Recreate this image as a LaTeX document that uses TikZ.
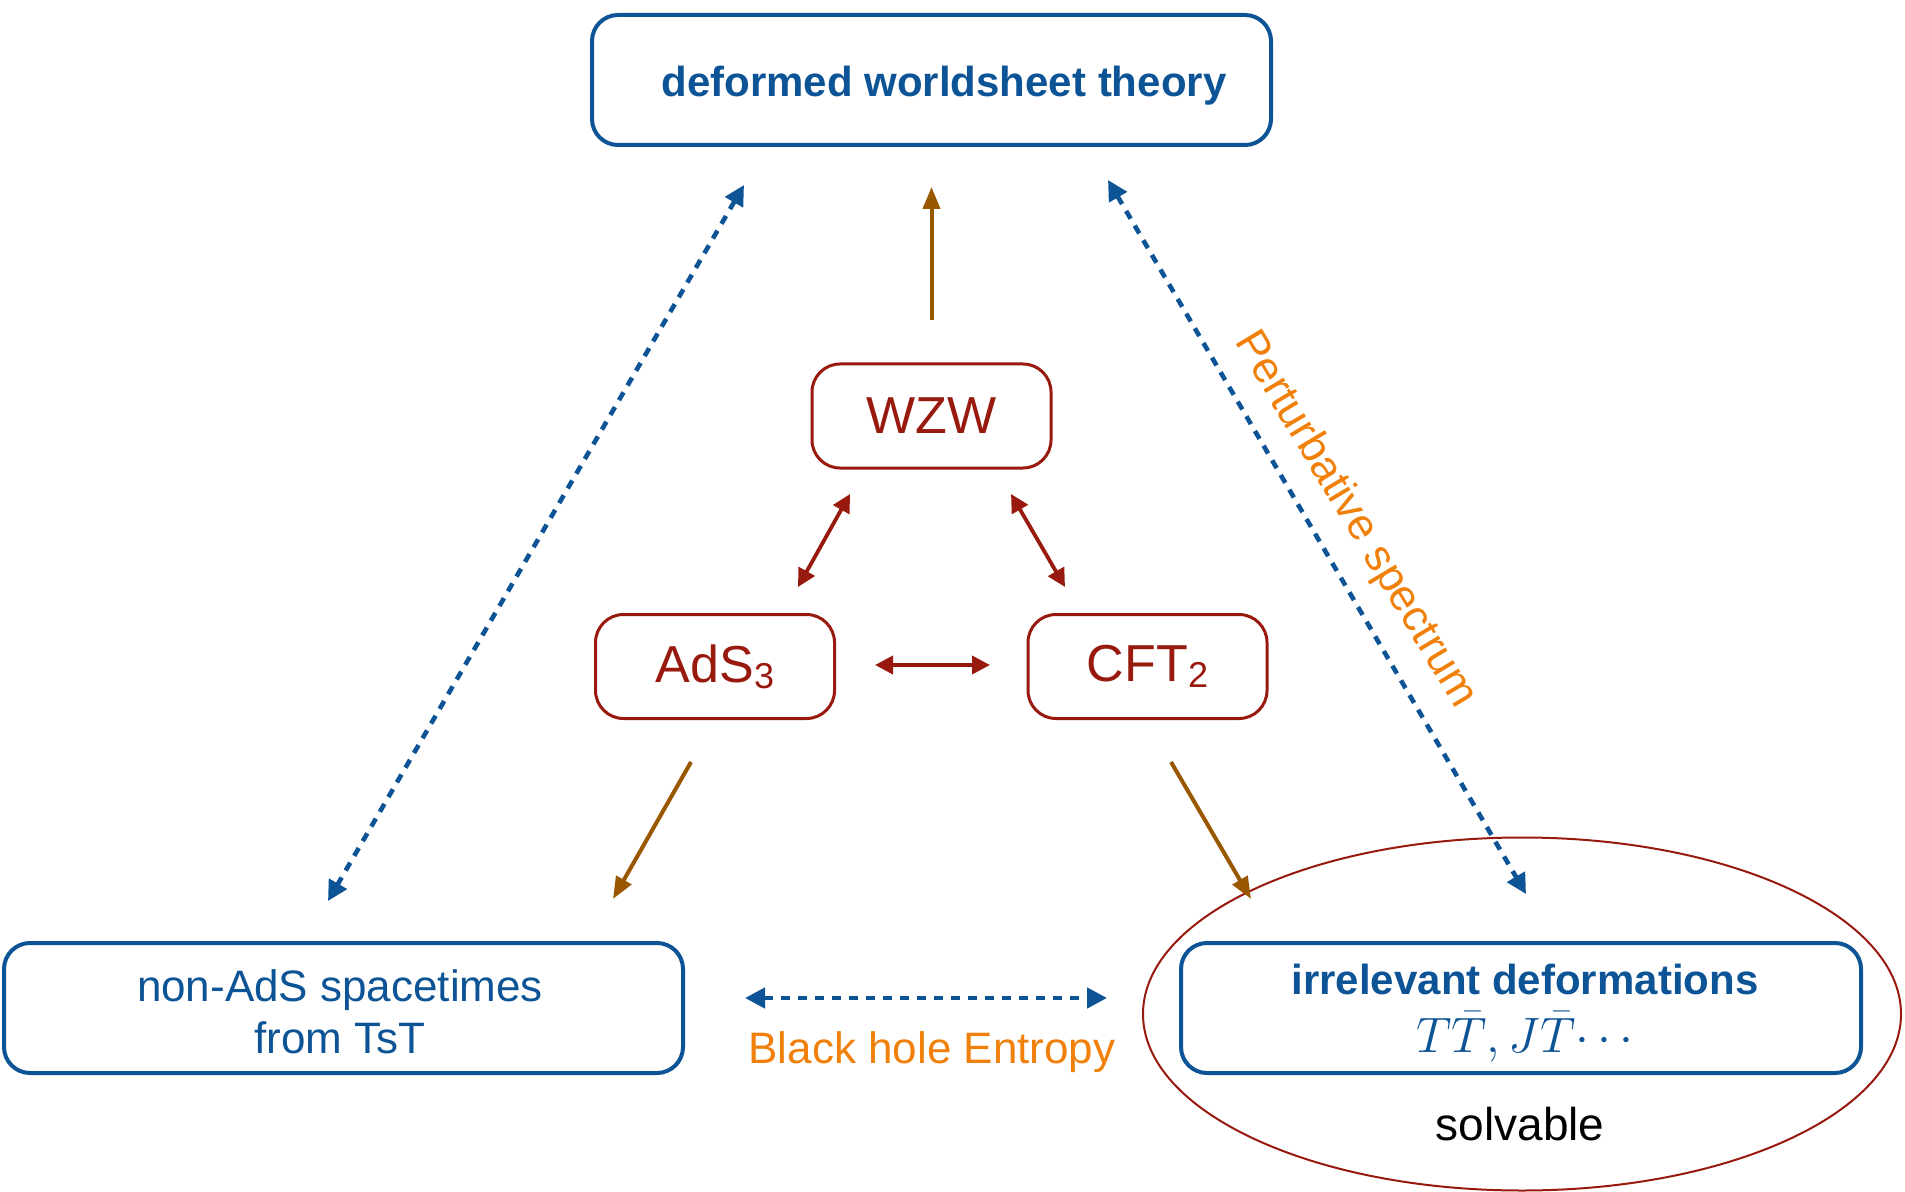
\documentclass[tikz,border=0pt]{standalone}
\usepackage{fontspec}
\setmainfont{Liberation Sans}
\usetikzlibrary{arrows.meta,shapes.geometric}
\definecolor{dblue}{RGB}{12,84,150}
\definecolor{dred}{RGB}{152,26,14}
\definecolor{arrbrown}{RGB}{153,88,0}
\definecolor{orng}{RGB}{240,128,10}
\begin{document}
\begin{tikzpicture}[x=0.5pt,y=-0.5pt,
  bluebox/.style={draw=dblue, line width=2pt, rounded corners=13pt, inner sep=0pt, minimum width=339.5pt, minimum height=65pt},
  bluetext/.style={text=dblue, align=center, inner sep=0pt},
  redbox/.style={draw=dred, line width=1.5pt, rounded corners=14pt, text=dred, inner sep=0pt, minimum width=119.5pt, minimum height=52pt, font=\fontsize{26}{30}\selectfont},
  redarr/.style={draw=dred, line width=1.9pt, {Triangle[length=9pt,width=9pt]}-{Triangle[length=9pt,width=9pt]}},
  brownarr/.style={draw=arrbrown, line width=2pt, -{Triangle[length=11pt,width=8.5pt]}},
  bluedot/.style={draw=dblue, line width=2.3pt, dash pattern=on 4.5pt off 4pt, {Triangle[length=10pt,width=10pt]}-{Triangle[length=10pt,width=10pt]}},
  orangetext/.style={text=orng, font=\fontsize{22}{26}\selectfont, inner sep=0pt}
]
\useasboundingbox (0,0) rectangle (1905,1192);

% boxes
\node[bluebox] (top) at (931.5,80) {};
\node[bluetext, font=\bfseries\fontsize{21}{25}\selectfont] (toptxt) at (944,86) {deformed worldsheet theory};
\node[redbox] (wzw) at (931.5,416) {WZW};
\node[redbox] (ads) at (715,666.5) {AdS\raisebox{-3pt}{\fontsize{18}{20}\selectfont 3}};
\node[redbox] (cft) at (1147.5,666.5) {CFT\raisebox{-3pt}{\fontsize{18}{20}\selectfont 2}};
\node[bluebox] (nonads) at (343.5,1008) {};
\node[bluetext, font=\fontsize{22}{26}\selectfont] (nonadstxt) at (340,1012) {non-AdS spacetimes\\from TsT};
\node[draw=dred, line width=1pt, ellipse, inner sep=0pt, minimum width=379pt, minimum height=176.5pt] (ell) at (1522,1014) {};
\node[bluebox, minimum width=340pt] (irr) at (1521,1008) {};
\node[bluetext, font=\fontsize{21}{29}\selectfont] (irrtxt) at (1525,1013) {\textbf{irrelevant deformations}\\{\fontsize{23}{29}\selectfont$T\bar T, J\bar T{\cdots}$}};
\node[font=\fontsize{23}{27}\selectfont, inner sep=0pt] (solv) at (1520,1124) {solvable};

% labels
\node[orangetext] (bhe) at (932,1052) {Black hole Entropy};
\node[orangetext, rotate=-59] (pert) at (1355,520) {Perturbative spectrum};

% arrow end points
\coordinate (r1a) at (850,494); \coordinate (r1b) at (798,587);
\coordinate (r2a) at (1011,494); \coordinate (r2b) at (1065,587);
\coordinate (r3a) at (875,665); \coordinate (r3b) at (990,665);
\coordinate (b1a) at (691,762); \coordinate (b1b) at (613,899);
\coordinate (b2a) at (1171,762); \coordinate (b2b) at (1251,899);
\coordinate (d1a) at (744,185); \coordinate (d1b) at (328,901);
\coordinate (d2a) at (1108,180); \coordinate (d2b) at (1526,894);
\coordinate (d3a) at (745,998); \coordinate (d3b) at (1107,998);

% connectors
\draw[brownarr, shorten <=21pt, shorten >=20pt] (wzw.north) -- (top.south);
\draw[redarr] (r1a) -- (r1b);
\draw[redarr] (r2a) -- (r2b);
\draw[redarr] (r3a) -- (r3b);
\draw[brownarr] (b1a) -- (b1b);
\draw[brownarr] (b2a) -- (b2b);
\draw[bluedot] (d1a) -- (d1b);
\draw[bluedot] (d2a) -- (d2b);
\draw[bluedot] (d3a) -- (d3b);
\end{tikzpicture}
\end{document}
